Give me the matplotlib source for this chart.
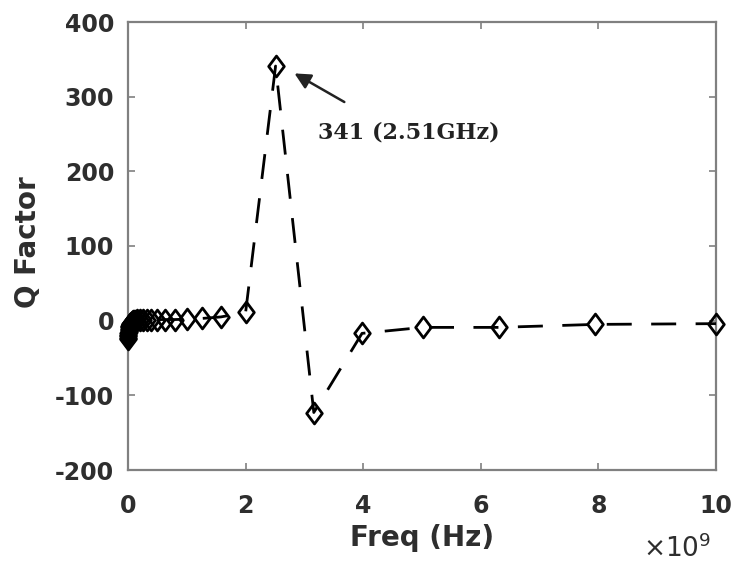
import numpy as np
import matplotlib
matplotlib.use("Agg")
import matplotlib.pyplot as plt
from matplotlib.path import Path

# Frequencies in GHz (log-spaced, 10 per decade) and Q factor values
freq_ghz = [0.001, 0.00158, 0.00251, 0.00398, 0.00631,
            0.01, 0.0126, 0.0158, 0.02, 0.0251, 0.0316, 0.0398, 0.0501, 0.0631, 0.0794,
            0.1, 0.126, 0.158, 0.2, 0.251, 0.316, 0.398, 0.501, 0.631, 0.794,
            1.0, 1.26, 1.58, 2.0, 2.51, 3.16, 3.98, 5.01, 6.31, 7.94, 10.0]
q_factor = [-24, -23, -21, -19, -17,
            -15, -13, -11, -9, -7, -5, -4, -3, -2, -1,
            0, 0, 0.5, 1, 1, 1, 1, 1.5, 1.5, 1.5,
            2, 3, 5, 11, 341, -123, -17, -9, -9, -5, -4]

xticks = [0, 2, 4, 6, 8, 10]
yticks = [-200, -100, 0, 100, 200, 300, 400]

fig = plt.figure(figsize=(7.36, 5.67), dpi=100)
ax = fig.add_axes([128/736, 1 - 470/567, (716-128)/736, (470-22)/567])

diamond = Path([(0, 1), (0.75, 0), (0, -1), (-0.75, 0), (0, 1)],
               [Path.MOVETO, Path.LINETO, Path.LINETO, Path.LINETO, Path.CLOSEPOLY])

x = np.array(freq_ghz) * 1e9
ax.plot(x, q_factor, linestyle=(0, (9, 7)), color='black', linewidth=2.0,
        marker=diamond, markersize=15, markerfacecolor='none',
        markeredgecolor='black', markeredgewidth=2.0, clip_on=False, zorder=5)

ax.set_xlim(0, 10e9)
ax.set_ylim(-200, 400)
ax.set_xticks([v * 1e9 for v in xticks])
ax.set_xticklabels([str(v) for v in xticks])
ax.set_yticks(yticks)
ax.set_yticklabels([str(v) for v in yticks])

gray = '#808080'
txtc = '#2e2e2e'
sans = 'DejaVu Sans'
for s in ax.spines.values():
    s.set_color(gray)
    s.set_linewidth(1.6)
ax.tick_params(direction='in', length=5, width=1.2, color=gray,
               top=True, right=True, labelsize=17, labelcolor=txtc)
ax.tick_params(axis='x', pad=17)
ax.tick_params(axis='y', pad=10)
for lab in ax.get_xticklabels() + ax.get_yticklabels():
    lab.set_fontweight('bold')
    lab.set_family(sans)

ax.set_xlabel('Freq (Hz)', fontsize=20, fontweight='bold', color=txtc,
              family=sans)
ax.xaxis.set_label_coords(0.5, -(538 - 470) / 448, transform=ax.transAxes)
ax.xaxis.label.set_va('center')
ax.set_ylabel('Q Factor', fontsize=20, fontweight='bold', color=txtc,
              family=sans)
ax.yaxis.set_label_coords(-(128 - 28) / 588, 0.5 + (245 - 241) / 448,
                          transform=ax.transAxes)
ax.yaxis.label.set_va('center')

fig.text(643/736, 1 - 557/567, r'$\times 10^9$', fontsize=19, color=txtc,
         ha='left', va='baseline')

ax.annotate('', xy=(2.79e9, 333), xytext=(3.72e9, 291),
            arrowprops=dict(arrowstyle='-|>', color='#222222', lw=1.8,
                            mutation_scale=24))
ax.text(3.23e9, 252, '341 (2.51GHz)', fontsize=16, fontweight='bold',
        family='DejaVu Serif', color='#222222', ha='left', va='center')

fig.savefig('out.png', dpi=100, facecolor='white')
